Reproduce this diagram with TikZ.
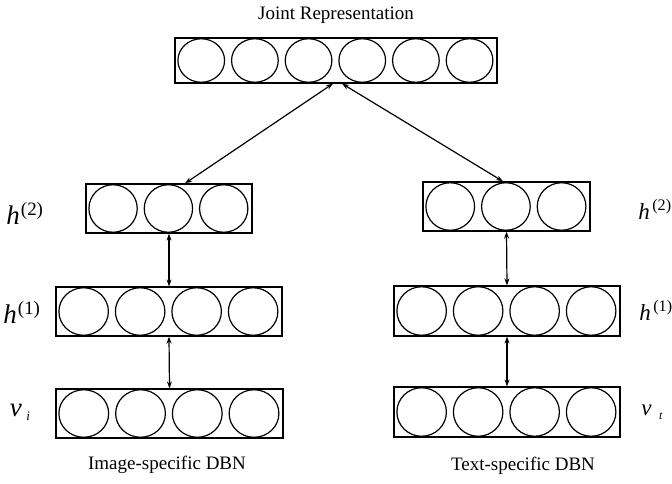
\documentclass[tikz,border=0pt]{standalone}
\usepackage{fontspec}
\setmainfont{Liberation Serif}
\usetikzlibrary{shapes.geometric,arrows.meta,calc}
\tikzset{
  layerbox/.style={draw, line width=1.2pt, rectangle, inner sep=0pt},
  unit/.style={draw, line width=1.2pt, ellipse, inner sep=0pt},
  arr/.style={{Stealth[length=7pt,width=5pt]}-{Stealth[length=7pt,width=5pt]}, line width=1.2pt},
  captext/.style={font=\fontsize{19}{22}\selectfont},
  lblL/.style={font=\fontsize{27}{30}\selectfont},
  lblR/.style={font=\fontsize{23}{26}\selectfont},
}
\newcommand\mklayer[6]{%
  \node[layerbox, minimum width=#5pt, minimum height=#6pt] (#1) at (#2,#3) {};
  \pgfmathsetmacro\layersp{#5/#4}
  \pgfmathsetmacro\unitw{#5/#4-7}
  \pgfmathsetmacro\unith{#6-1.5}
  \foreach \k in {1,...,#4} {
    \node[unit, minimum width=\unitw pt, minimum height=\unith pt] (#1-\k) at ($(#1.west)+({(\k-0.5)*\layersp},0)$) {};
  }
}
\begin{document}
\begin{tikzpicture}[x=1pt,y=-1pt]
\useasboundingbox (0,0) rectangle (672,483);
% layers
\mklayer{J}{336}{60.5}{6}{322}{45}
\mklayer{L2}{169}{208.5}{3}{166}{49}
\mklayer{L1}{169}{311.5}{4}{226}{49}
\mklayer{LV}{169.5}{413.5}{4}{227}{49}
\mklayer{R2}{506.5}{206.5}{3}{167}{49}
\mklayer{R1}{507}{311}{4}{226}{50}
\mklayer{RV}{507}{412}{4}{226}{50}
% connectors
\draw[arr] ([xshift=-3pt]J.south) -- ([xshift=16pt]L2.north);
\draw[arr] ([xshift=6pt]J.south) -- ([xshift=-3.5pt]R2.north);
\draw[arr] (L2.south) -- (L1.north);
\draw[arr] (L1.south) -- (LV.north);
\draw[arr] (R2.south) -- (R1.north);
\draw[arr] (R1.south) -- (RV.north);
% texts
\node[captext] (title) at (336,15) {Joint Representation};
\node[captext] (capL) at (167,465) {Image-specific DBN};
\node[captext] (capR) at (523,466) {Text-specific DBN};
\node[lblL] (lh2) at (25,213) {\textit{h}\kern1pt\textsuperscript{(2)}};
\node[lblL] (lh1) at (22,312) {\textit{h}\kern1pt\textsuperscript{(1)}};
\node[lblL] (lvi) at (20,412) {\textit{v}\,\raisebox{-0.35ex}{\fontsize{13}{14}\selectfont\textit{i}}};
\node[lblR] (rh2) at (655,209) {\textit{h}\kern2.5pt\textsuperscript{(2)}};
\node[lblR] (rh1) at (656,310) {\textit{h}\kern2.5pt\textsuperscript{(1)}};
\node[lblR] (rvt) at (652,412) {\textit{v}\,\,\raisebox{-0.35ex}{\fontsize{12}{13}\selectfont\textit{t}}};
\end{tikzpicture}
\end{document}
